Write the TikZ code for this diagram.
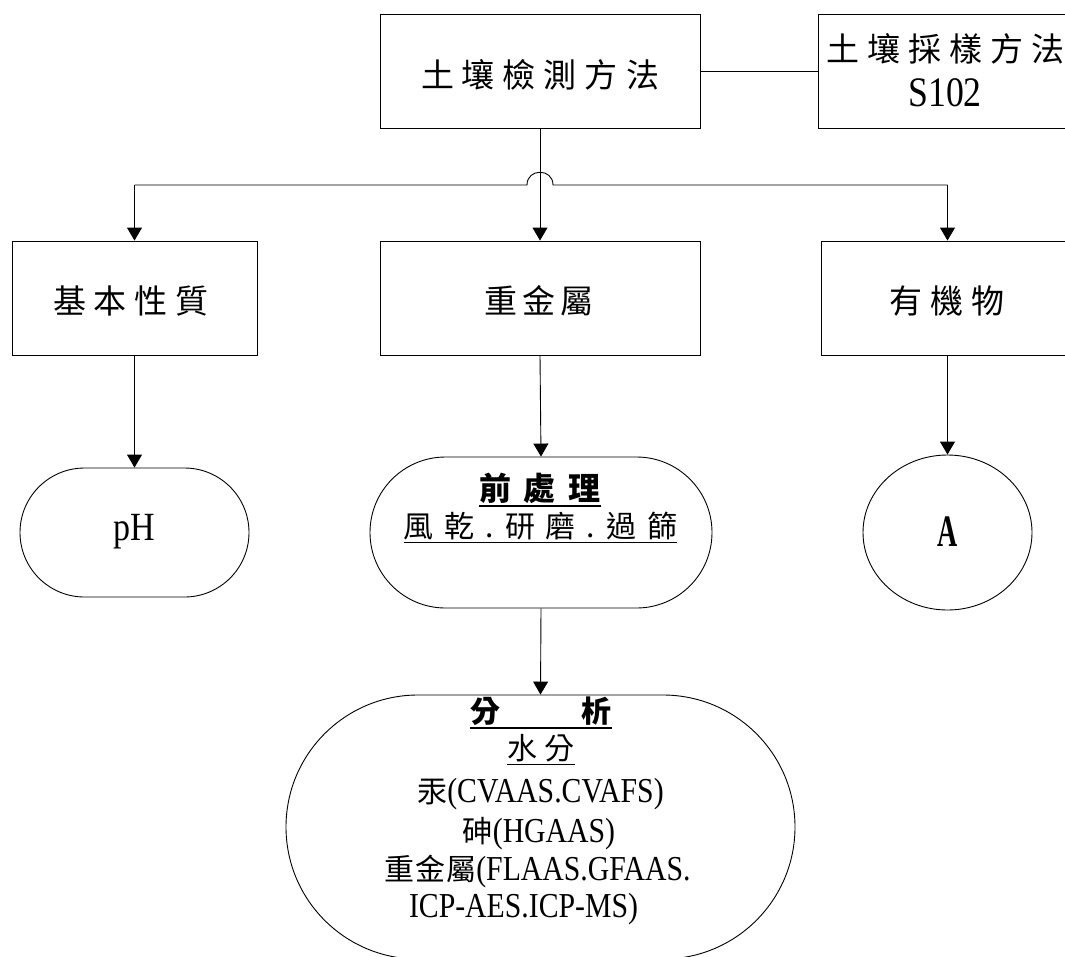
\documentclass[tikz,border=0pt]{standalone}
\usepackage{fontspec}
\setmainfont[FakeStretch=0.85]{Liberation Serif}
\newfontfamily\cjk{Noto Sans CJK TC}
\newfontfamily\latA[FakeStretch=0.62]{Liberation Serif}
\usetikzlibrary{arrows.meta,shapes.misc,shapes.geometric}
\ExplSyntaxOn
\NewDocumentCommand\spaced{ m m }
 {
  \bool_set_true:N \l_tmpa_bool
  \tl_map_inline:nn {#2}
   {
    \bool_if:NF \l_tmpa_bool { \kern #1 \relax }
    \bool_set_false:N \l_tmpa_bool
    ##1
   }
 }
\ExplSyntaxOff
\newcommand\uline[1]{\leavevmode\vtop{\hbox{#1}\kern2pt\hrule height 1.6pt}}
\newcommand\cjkbig{\cjk\fontsize{33pt}{38pt}\selectfont}
\newcommand\cjkmid{\cjk\fontsize{30pt}{36pt}\selectfont}
\tikzset{
  box/.style={draw, line width=0.9pt, inner sep=0pt},
  term/.style={draw, line width=0.9pt, rounded rectangle, inner sep=0pt},
  lbl/.style={inner sep=0pt, text=black},
  arr/.style={line width=0.9pt, -{Triangle[width=15pt,length=13pt]}},
  wire/.style={line width=0.9pt}
}
\begin{document}
\begin{tikzpicture}[x=1pt,y=-1pt]
\useasboundingbox (0,0) rectangle (1065,956);
% top row
\node[box, minimum width=320pt, minimum height=114pt] (top) at (540,71) {};
\node[lbl] (topt) at (540,75) {\cjkbig\spaced{8pt}{土壤檢測方法}};
\node[box, minimum width=262pt, minimum height=114pt] (samp) at (949,71) {};
\node[lbl] (sampa) at (945.5,49) {\cjkbig\spaced{8pt}{土壤採樣方法}};
\node[lbl] (sampb) at (945,93) {\fontsize{42pt}{48pt}\selectfont S102};
\draw[wire] (top.east) -- (samp.west);
% second row
\node[box, minimum width=245pt, minimum height=114pt] (b1) at (134.5,298) {};
\node[lbl] (b1t) at (131,301) {\cjkbig\spaced{8pt}{基本性質}};
\node[box, minimum width=320pt, minimum height=114pt] (b2) at (540,298) {};
\node[lbl] (b2t) at (539,301) {\cjkbig\spaced{5pt}{重金屬}};
\node[box, minimum width=253pt, minimum height=114pt] (b3) at (947.5,298) {};
\node[lbl] (b3t) at (947,301) {\cjkbig\spaced{8pt}{有機物}};
% distribution line with hop
\coordinate (hl) at (134.5,185);
\coordinate (hr) at (947.5,185);
\coordinate (ha) at (527,185);
\coordinate (hb) at (553,185);
\draw[wire] (hl) -- (ha) .. controls +(0,-17) and +(0,-17) .. (hb) -- (hr);
\draw[arr] (hl) -- (b1.north);
\draw[arr] (hr) -- (b3.north);
\draw[arr] (top.south) -- (b2.north);
% third row
\node[term, minimum width=229pt, minimum height=129pt] (ph) at (134.5,532.5) {};
\node[lbl] (pht) at (134,532) {\fontsize{40pt}{48pt}\selectfont pH};
\node[term, minimum width=342pt, minimum height=151pt] (pre) at (541,532.5) {};
\node[lbl, anchor=base] (prea) at (540,500) {\uline{\cjk\bfseries\fontsize{32pt}{38pt}\selectfont\spaced{13pt}{前處理}}};
\node[lbl, anchor=base] (preb) at (540.5,537) {\uline{\cjkmid\spaced{11pt}{風乾}\kern11pt.\kern11pt\spaced{11pt}{研磨}\kern11pt.\kern11pt\spaced{11pt}{過篩}}};
\node[draw, line width=0.9pt, ellipse, minimum width=169pt, minimum height=155pt, inner sep=0pt] (a) at (947.5,532.5) {};
\node[lbl] (at) at (947.5,532) {\latA\bfseries\fontsize{45pt}{50pt}\selectfont A};
\draw[arr] (b1.south) -- (ph.north);
\draw[arr] (b2.south) -- (pre.north);
\draw[arr] (b3.south) -- (a.north);
% analysis
\node[term, minimum width=509pt, minimum height=264pt] (ana) at (540.5,827) {};
\draw[arr] (pre.south) -- (ana.north);
\node[lbl, anchor=base] (anaa) at (541,722) {\uline{\cjk\bfseries\fontsize{30pt}{36pt}\selectfont 分\kern82pt 析}};
\node[lbl, anchor=base] (anab) at (541,759) {\uline{\cjkmid\spaced{8pt}{水分}}};
\node[lbl, anchor=base] (anac) at (540.5,802) {\fontsize{35pt}{40pt}\selectfont{\cjkmid 汞}(CVAAS.CVAFS)};
\node[lbl, anchor=base] (anad) at (539,842) {\fontsize{35pt}{40pt}\selectfont{\cjkmid 砷}(HGAAS)};
\node[lbl, anchor=base] (anae) at (537.5,880) {\fontsize{35pt}{40pt}\selectfont{\cjkmid\spaced{1pt}{重金屬}}(FLAAS.GFAAS.};
\node[lbl, anchor=base] (anaf) at (523.5,917) {\fontsize{35pt}{40pt}\selectfont ICP-AES.ICP-MS)};
\end{tikzpicture}
\end{document}
